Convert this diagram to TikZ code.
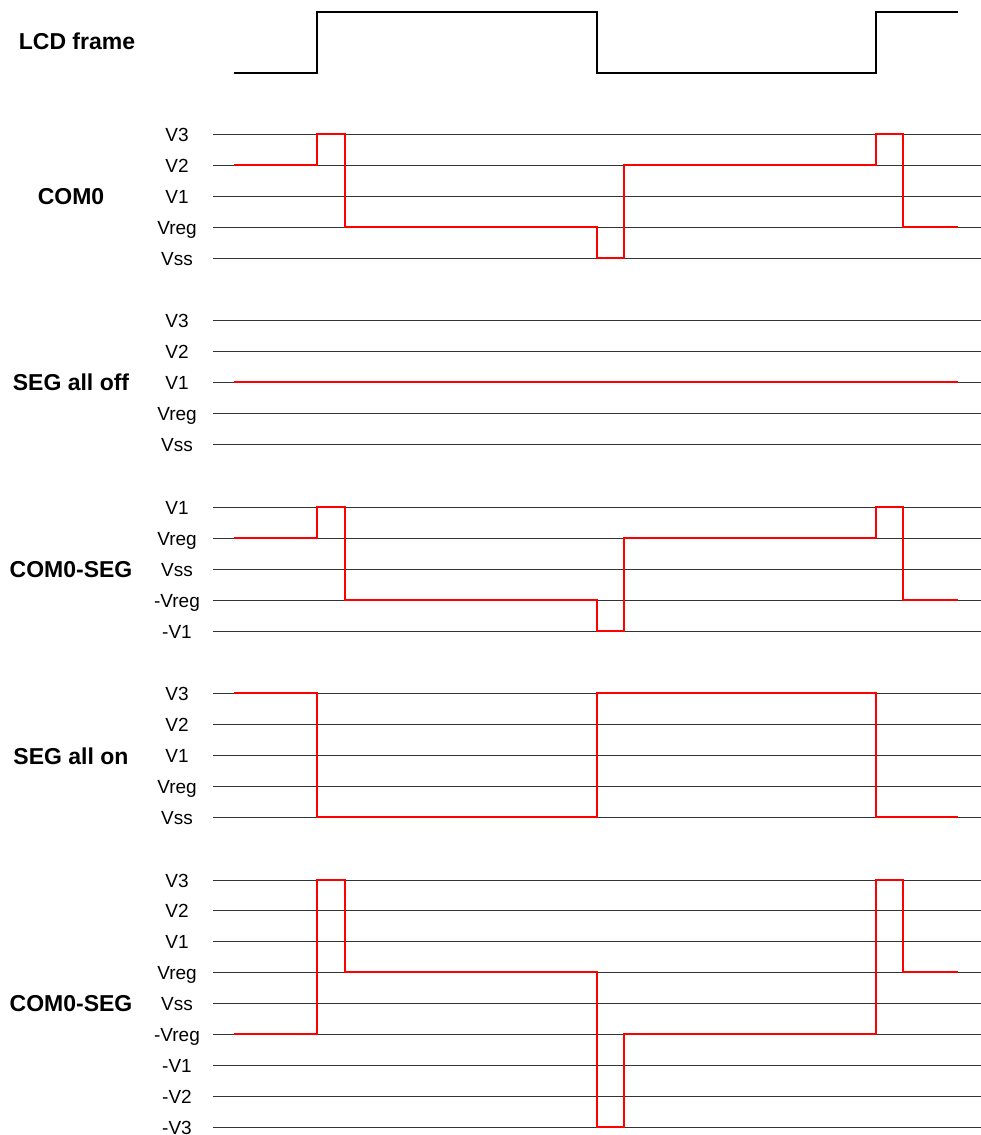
\documentclass[tikz,border=0pt]{standalone}
\usepackage{fontspec}
\setmainfont{Liberation Sans}
\begin{document}
\begin{tikzpicture}[x=1pt,y=-1pt,
  gridline/.style={line width=0.9pt, black!80},
  wave/.style={red, line width=2.8pt, line join=miter},
  framewave/.style={black, line width=2.5pt, line join=miter},
  lvl/.style={font=\fontsize{19}{19}\selectfont, anchor=base, inner sep=0pt},
  grp/.style={font=\bfseries\fontsize{23}{23}\selectfont, anchor=base, inner sep=0pt}]
\useasboundingbox (0,0) rectangle (981,1135);

% group labels
\node[grp] (lcd) at (77,49) {LCD frame};
\node[grp] (com0) at (71,204.5) {COM0};
\node[grp] (segoff) at (71,390.5) {SEG all off};
\node[grp] (diff1) at (71,577.5) {COM0-SEG};
\node[grp] (segon) at (71,764) {SEG all on};
\node[grp] (diff2) at (71,1011.5) {COM0-SEG};

% level grids
\foreach \y/\t [count=\i] in {134/V3,165/V2,196/V1,227/Vreg,258/Vss}{
  \draw[gridline] (213,\y) -- (981,\y);
  \node[lvl] (a\i) at (177,\y+7) {\t};
}
\foreach \y/\t [count=\i] in {320/V3,351/V2,382/V1,413/Vreg,444/Vss}{
  \draw[gridline] (213,\y) -- (981,\y);
  \node[lvl] (b\i) at (177,\y+7) {\t};
}
\foreach \y/\t [count=\i] in {507/V1,538/Vreg,569/Vss,600/-Vreg,631/-V1}{
  \draw[gridline] (213,\y) -- (981,\y);
  \node[lvl] (c\i) at (177,\y+7) {\t};
}
\foreach \y/\t [count=\i] in {693/V3,724/V2,755/V1,786/Vreg,817/Vss}{
  \draw[gridline] (213,\y) -- (981,\y);
  \node[lvl] (d\i) at (177,\y+7) {\t};
}
\foreach \y/\t [count=\i] in {880/V3,910/V2,941/V1,972/Vreg,1003/Vss,1034/-Vreg,1065/-V1,1096/-V2,1127/-V3}{
  \draw[gridline] (213,\y) -- (981,\y);
  \node[lvl] (e\i) at (177,\y+7) {\t};
}

% LCD frame
\draw[framewave] (234,73) -- (317,73) -- (317,12) -- (597,12) -- (597,73) -- (876,73) -- (876,12) -- (958,12);

% COM0
\draw[wave] (234,165) -- (317,165) -- (317,134) -- (345,134) -- (345,227) -- (597,227) -- (597,258) -- (624,258) -- (624,165) -- (876,165) -- (876,134) -- (903,134) -- (903,227) -- (958,227);

% SEG all off
\draw[wave] (234,382) -- (958,382);

% COM0-SEG (off)
\draw[wave] (234,538) -- (317,538) -- (317,507) -- (345,507) -- (345,600) -- (597,600) -- (597,631) -- (624,631) -- (624,538) -- (876,538) -- (876,507) -- (903,507) -- (903,600) -- (958,600);

% SEG all on
\draw[wave] (234,693) -- (317,693) -- (317,817) -- (597,817) -- (597,693) -- (876,693) -- (876,817) -- (958,817);

% COM0-SEG (on)
\draw[wave] (234,1034) -- (317,1034) -- (317,880) -- (345,880) -- (345,972) -- (597,972) -- (597,1127) -- (624,1127) -- (624,1034) -- (876,1034) -- (876,880) -- (903,880) -- (903,972) -- (958,972);
\end{tikzpicture}
\end{document}
